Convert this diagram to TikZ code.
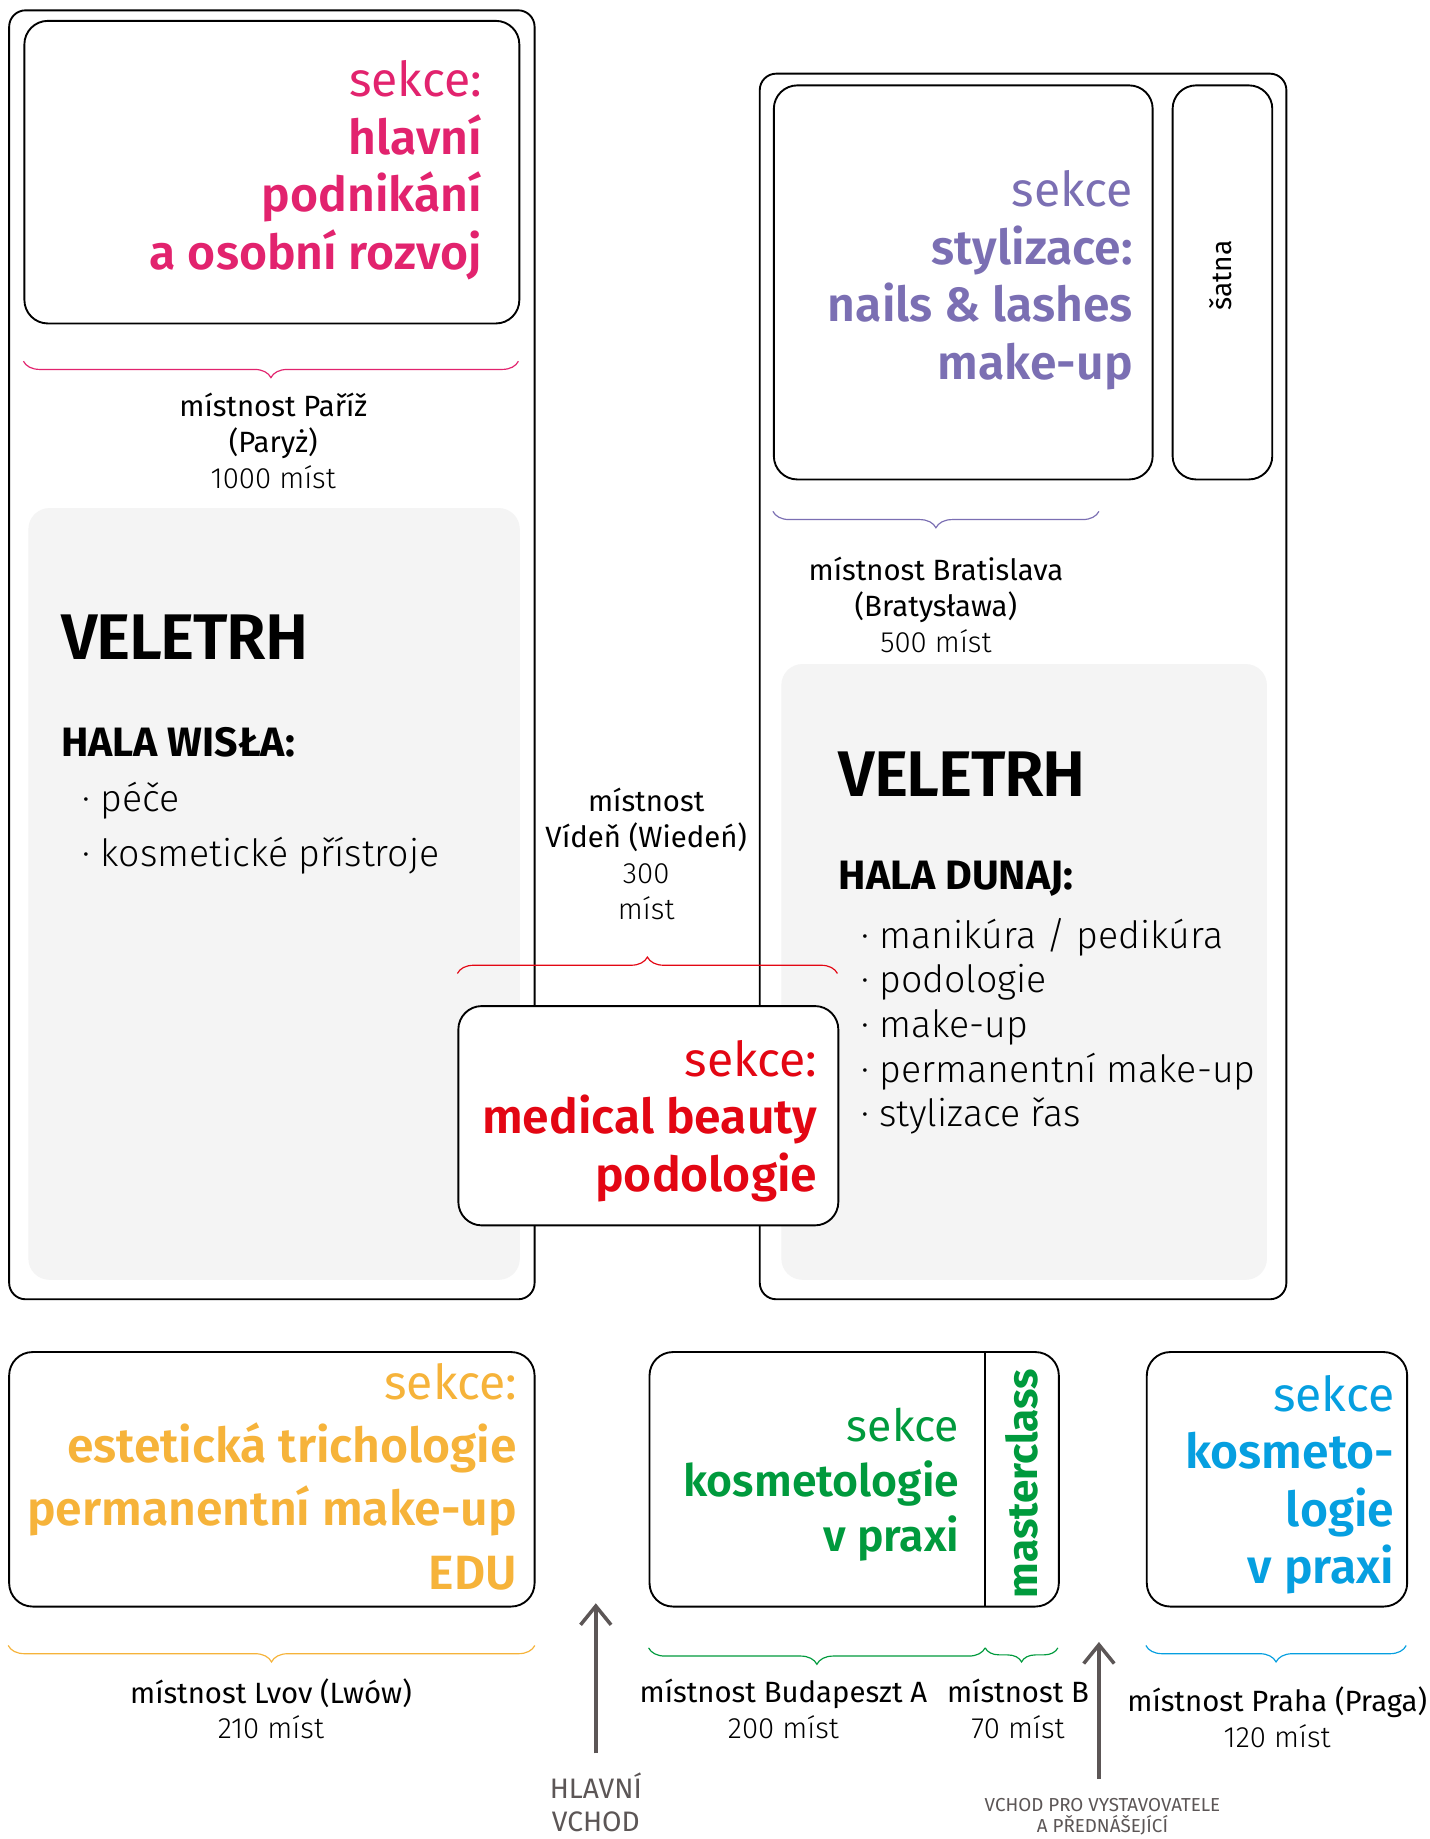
\documentclass[tikz,border=0pt]{standalone}
\usepackage{fontspec}
\setmainfont{Fira Sans}
\newfontfamily\firaL{Fira Sans Light}
\newfontfamily\firaSB{Fira Sans SemiBold}
\newfontfamily\firaSBtight{Fira Sans SemiBold}[LetterSpace=-2]
\usetikzlibrary{decorations.pathreplacing,arrows.meta}
\definecolor{cpink}{HTML}{E2236E}
\definecolor{cpurple}{HTML}{7B6FB3}
\definecolor{cred}{HTML}{E30613}
\definecolor{corange}{HTML}{F6B33A}
\definecolor{cgreen}{HTML}{009A3D}
\definecolor{cblue}{HTML}{069FE0}
\definecolor{cgrey}{HTML}{5C5656}
\definecolor{hallgrey}{HTML}{F4F4F4}
\begin{document}
\begin{tikzpicture}[x=1pt,y=-1pt,
  room/.style={draw,line width=1.6pt,rounded corners=14pt,anchor=north west,inner sep=0pt},
  secbox/.style={draw,line width=1.6pt,rounded corners=20pt,fill=white,anchor=north west,inner sep=0pt},
  hall/.style={fill=hallgrey,rounded corners=18pt,anchor=north west,inner sep=0pt},
  sectext/.style={anchor=east,align=right,inner sep=0pt,font=\fontsize{41pt}{49pt}\selectfont},
  lbl/.style={align=center,inner sep=0pt,font=\fontsize{25pt}{30.5pt}\selectfont},
  brc/.style={decorate,decoration={brace,amplitude=14pt},line width=1pt},
  entry/.style={line width=3pt,draw=cgrey,-{Straight Barb[length=16pt,width=26pt]}},
  bigtitle/.style={anchor=west,inner sep=0pt,font=\fontsize{55pt}{55pt}\selectfont\firaSBtight},
  halltitle/.style={anchor=west,inner sep=0pt,font=\fontsize{35pt}{35pt}\selectfont\bfseries},
]
\fill[white] (0,0) rectangle (1219,1568);
\useasboundingbox (0,0) rectangle (1219,1568);

% ---------- halls (grey) ----------
\node[hall,minimum width=419pt,minimum height=658pt] (hallL) at (24,433) {};
\node[hall,minimum width=414pt,minimum height=525pt] (hallR) at (666,566) {};

% ---------- rooms ----------
\node[room,minimum width=448pt,minimum height=1099pt] (paris) at (7,8) {};
\node[room,minimum width=449pt,minimum height=1045pt] (brat) at (647,62) {};

% ---------- Paris ----------
\node[secbox,minimum width=422pt,minimum height=258pt] (pinkbox) at (20,17) {};
\node[sectext,text=cpink] (pinktext) at (411,145)
  {sekce:\\{\firaSB hlavní}\\{\firaSB podnikání}\\{\firaSB a osobní rozvoj}};
\coordinate (pbA) at (442,308);
\coordinate (pbB) at (20,308);
\draw[brc,cpink] (pbA) -- (pbB);
\node[lbl] (parislbl) at (233,376) {místnost Paříž\\(Paryż)\\{\firaL 1000 míst}};
\node[bigtitle] (veleL) at (52,543) {VELETRH};
\node[halltitle] (wisla) at (52,633) {HALA WISŁA:};
\node[anchor=west,align=left,inner sep=0pt,font=\fontsize{32pt}{47pt}\selectfont\firaL] (listL) at (70,706)
  {·\ péče\\·\ kosmetické přístroje};

% ---------- Bratislava ----------
\node[secbox,minimum width=323pt,minimum height=336pt] (purplebox) at (659,72) {};
\node[secbox,minimum width=85pt,minimum height=336pt] (satna) at (999,72) {};
\node[rotate=90,inner sep=0pt,font=\fontsize{24pt}{24pt}\selectfont] (satnatext) at (1041,235) {šatna};
\node[sectext,text=cpurple] (purpletext) at (966,239)
  {sekce\\{\firaSB stylizace:}\\{\firaSB nails \& lashes}\\{\firaSB make-up}};
\coordinate (bbA) at (937,436);
\coordinate (bbB) at (659,436);
\draw[brc,cpurple] (bbA) -- (bbB);
\node[lbl] (bratlbl) at (798,516) {místnost Bratislava\\(Bratysława)\\{\firaL 500 míst}};
\node[bigtitle] (veleR) at (715,660) {VELETRH};
\node[halltitle] (dunaj) at (715,749) {HALA DUNAJ:};
\node[anchor=west,align=left,inner sep=0pt,font=\fontsize{32pt}{38pt}\selectfont\firaL] (listR) at (734,875)
  {·\ manikúra / pedikúra\\·\ podologie\\·\ make-up\\·\ permanentní make-up\\·\ stylizace řas};

% ---------- Vienna ----------
\node[lbl] (vienlbl) at (551,728) {místnost\\Vídeň (Wiedeń)\\{\firaL 300}\\{\firaL míst}};
\coordinate (vbA) at (390,830);
\coordinate (vbB) at (714,830);
\draw[brc,cred] (vbA) -- (vbB);
\node[secbox,minimum width=324pt,minimum height=187pt] (redbox) at (390,857) {};
\node[sectext,text=cred] (redtext) at (697,956)
  {sekce:\\{\firaSB medical beauty}\\{\firaSB podologie}};

% ---------- Lvov ----------
\node[secbox,minimum width=448pt,minimum height=217pt] (orangebox) at (7,1152) {};
\node[sectext,text=corange,font=\fontsize{41pt}{54pt}\selectfont] (orangetext) at (441,1259)
  {sekce:\\{\firaSB estetická trichologie}\\{\firaSB permanentní make-up}\\{\firaSB EDU}};
\coordinate (obA) at (456,1403);
\coordinate (obB) at (7,1403);
\draw[brc,corange] (obA) -- (obB);
\node[lbl] (lvovlbl) at (231,1457) {místnost Lvov (Lwów)\\{\firaL 210 míst}};

% ---------- main entrance ----------
\coordinate (mainS) at (508,1495);
\coordinate (mainE) at (508,1367);
\draw[entry] (mainS) -- (mainE);
\node[align=center,inner sep=0pt,text=cgrey,font=\fontsize{24pt}{28pt}\selectfont] (mainlbl) at (508,1537) {HLAVNÍ\\VCHOD};

% ---------- Budapest ----------
\node[secbox,minimum width=349pt,minimum height=217pt] (greenbox) at (553,1152) {};
\coordinate (gdT) at (840,1152);
\coordinate (gdB) at (840,1369);
\draw[line width=1.6pt] (gdT) -- (gdB);
\node[sectext,text=cgreen,font=\fontsize{38pt}{47pt}\selectfont] (greentext) at (818,1266)
  {sekce\\{\firaSB kosmetologie}\\{\firaSB v praxi}};
\node[rotate=90,inner sep=0pt,text=cgreen,font=\fontsize{36pt}{36pt}\selectfont\bfseries] (master) at (871,1265) {masterclass};
\coordinate (gbA) at (840,1405);
\coordinate (gbB) at (553,1405);
\draw[brc,cgreen] (gbA) -- (gbB);
\coordinate (gcA) at (902,1405);
\coordinate (gcB) at (840,1405);
\draw[brc,cgreen,decoration={brace,amplitude=12pt}] (gcA) -- (gcB);
\node[lbl] (budalbl) at (668,1457) {místnost Budapeszt A\\{\firaL 200 míst}};
\node[lbl] (blbl) at (868,1457) {místnost B\\{\firaL 70 míst}};

% ---------- exhibitors entrance ----------
\coordinate (exS) at (937,1517);
\coordinate (exE) at (937,1400);
\draw[entry] (exS) -- (exE);
\node[align=center,inner sep=0pt,text=cgrey,font=\fontsize{16pt}{18pt}\selectfont] (exlbl) at (940,1549) {VCHOD PRO VYSTAVOVATELE\\A PŘEDNÁŠEJÍCÍ};

% ---------- Praha ----------
\node[secbox,minimum width=222pt,minimum height=217pt] (bluebox) at (977,1152) {};
\node[sectext,text=cblue] (bluetext) at (1189,1266)
  {sekce\\{\firaSB kosmeto-}\\{\firaSB logie}\\{\firaSB v praxi}};
\coordinate (blA) at (1199,1403);
\coordinate (blB) at (977,1403);
\draw[brc,cblue] (blA) -- (blB);
\node[lbl] (prahalbl) at (1089,1464) {místnost Praha (Praga)\\{\firaL 120 míst}};
\end{tikzpicture}
\end{document}
